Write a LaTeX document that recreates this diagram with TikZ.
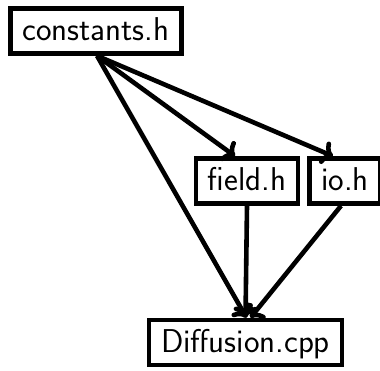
\documentclass[tikz,border=0pt]{standalone}
\usetikzlibrary{arrows.meta}
\begin{document}
\begin{tikzpicture}[x=1pt,y=-1pt,
  file/.style={draw,line width=4.6pt,font=\sffamily\fontsize{33}{40}\selectfont,
    inner xsep=12pt,inner ysep=9pt,text height=23pt,text depth=4pt},
  dep/.style={line width=4.6pt,-{Computer Modern Rightarrow[length=11pt,width=24pt,line width=4.6pt]}}]
  \useasboundingbox (0,0) rectangle (380,371);
  \node[file] (c) at (96,31) {constants.h};
  \node[file] (f) at (247,181) {field.h};
  \node[file] (i) at (345,181) {io.h};
  \node[file] (d) at (245.5,342.5) {Diffusion.cpp};
  \coordinate (src) at ([xshift=1pt]c.south);
  \draw[dep] (src) -- ([xshift=-12pt]f.north);
  \draw[dep] (src) -- ([xshift=-12pt]i.north);
  \draw[dep] (src) -- ([xshift=1pt]d.north);
  \draw[dep] (f.south) -- (d.north);
  \draw[dep] ([xshift=-4pt]i.south) -- ([xshift=5pt]d.north);
\end{tikzpicture}
\end{document}
